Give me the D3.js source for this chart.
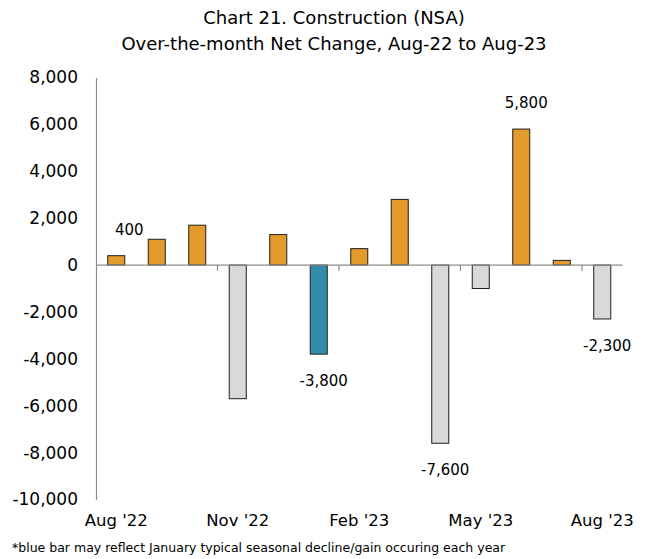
<!DOCTYPE html>
<html>
<head>
<meta charset="utf-8">
<script src="https://cdn.jsdelivr.net/npm/d3@7"></script>
<style>
  body { margin: 0; background: #fff; }
  svg text { font-family: "DejaVu Sans", sans-serif; fill: #000; }
</style>
</head>
<body>
<svg id="chart" width="646" height="559"></svg>
<script>
/*** DATA ***/
var months = ["Aug '22", "Sep '22", "Oct '22", "Nov '22", "Dec '22", "Jan '23", "Feb '23",
              "Mar '23", "Apr '23", "May '23", "Jun '23", "Jul '23", "Aug '23"];
var netChange = [400, 1100, 1700, -5700, 1300, -3800, 700, 2800, -7600, -1000, 5800, 200, -2300];
var yTicks = [8000, 6000, 4000, 2000, 0, -2000, -4000, -6000, -8000, -10000];
var xLabels = ["Aug '22", "Nov '22", "Feb '23", "May '23", "Aug '23"];
var labeledMonths = ["Aug '22", "Jan '23", "Apr '23", "Jun '23", "Aug '23"];
var seasonalMonth = "Jan '23";

var titleLines = ["Chart 21. Construction (NSA)", "Over-the-month Net Change, Aug-22 to Aug-23"];
var footnote = "*blue bar may reflect January typical seasonal decline/gain occuring each year";

/*** SETUP ***/
var svg = d3.select('#chart');
var fmt = d3.formatLocale({decimal: ".", thousands: ",", grouping: [3], currency: ["$", ""], minus: "-"}).format(",");

var x = d3.scaleBand()
  .domain(months)
  .range([96, 622.5])
  .paddingInner(0.58)
  .paddingOuter(0.29);

var y = d3.scaleLinear()
  .domain([-10000, 8000])
  .range([499.5, 77.5]);

var colors = {pos: '#E29A2B', neg: '#D9D9D9', seasonal: '#338DA8'};

//title
svg.selectAll('.title')
  .data(titleLines)
  .enter().append('text')
  .attr('class', 'title')
  .attr('x', 334)
  .attr('y', function(d, i) { return 24 + i * 26; })
  .attr('text-anchor', 'middle')
  .style('font-size', '18px')
  .text(function(d) { return d; });

//y axis
var yAxis = svg.append('g')
  .attr('transform', 'translate(96,0)')
  .call(d3.axisLeft(y).tickValues(yTicks).tickSize(0).tickPadding(18).tickFormat(fmt));
yAxis.select('.domain').attr('stroke', '#8c8c8c').attr('stroke-width', 1.2);
yAxis.selectAll('text').style('font-size', '17px').style('font-family', '"DejaVu Sans", sans-serif');

//bars
svg.selectAll('.bar')
  .data(months)
  .enter().append('rect')
  .attr('class', 'bar')
  .attr('x', function(d) { return x(d); })
  .attr('width', x.bandwidth())
  .attr('y', function(d, i) { return y(Math.max(0, netChange[i])); })
  .attr('height', function(d, i) { return Math.abs(y(netChange[i]) - y(0)); })
  .attr('fill', function(d, i) {
    if (d == seasonalMonth) return colors.seasonal;
    return netChange[i] >= 0 ? colors.pos : colors.neg;
  })
  .attr('stroke', '#1f1f1f')
  .attr('stroke-width', 1);

//zero line
svg.append('line')
  .attr('x1', 96).attr('x2', 622.5)
  .attr('y1', y(0)).attr('y2', y(0))
  .attr('stroke', '#8c8c8c')
  .attr('stroke-width', 1.2);

//category ticks every 3 months
var step = x.step();
var gap = step - x.bandwidth();
svg.selectAll('.cat-tick')
  .data(xLabels.slice(1))
  .enter().append('line')
  .attr('class', 'cat-tick')
  .attr('x1', function(d) { return x(d) - gap / 2; })
  .attr('x2', function(d) { return x(d) - gap / 2; })
  .attr('y1', y(0))
  .attr('y2', y(0) + 6)
  .attr('stroke', '#8c8c8c')
  .attr('stroke-width', 1.2);

//x labels
var xAxis = svg.append('g')
  .attr('transform', 'translate(0,514)')
  .call(d3.axisBottom(x).tickValues(xLabels).tickSize(0).tickPadding(0));
xAxis.select('.domain').remove();
xAxis.selectAll('text').style('font-size', '16.5px').style('font-family', '"DejaVu Sans", sans-serif');

//data labels
var labelNudge = {"Aug '22": 13};
svg.selectAll('.value-label')
  .data(labeledMonths)
  .enter().append('text')
  .attr('class', 'value-label')
  .attr('text-anchor', 'middle')
  .style('font-size', '15px')
  .attr('x', function(d) { return x(d) + x.bandwidth() / 2 + (labelNudge[d] || 5); })
  .attr('y', function(d) {
    var v = netChange[months.indexOf(d)];
    return v >= 0 ? y(v) - 21 : y(v) + 32;
  })
  .text(function(d) { return fmt(netChange[months.indexOf(d)]); });

//footnote
svg.append('text')
  .attr('x', 12)
  .attr('y', 552)
  .style('font-size', '12.5px')
  .text(footnote);
</script>
</body>
</html>
